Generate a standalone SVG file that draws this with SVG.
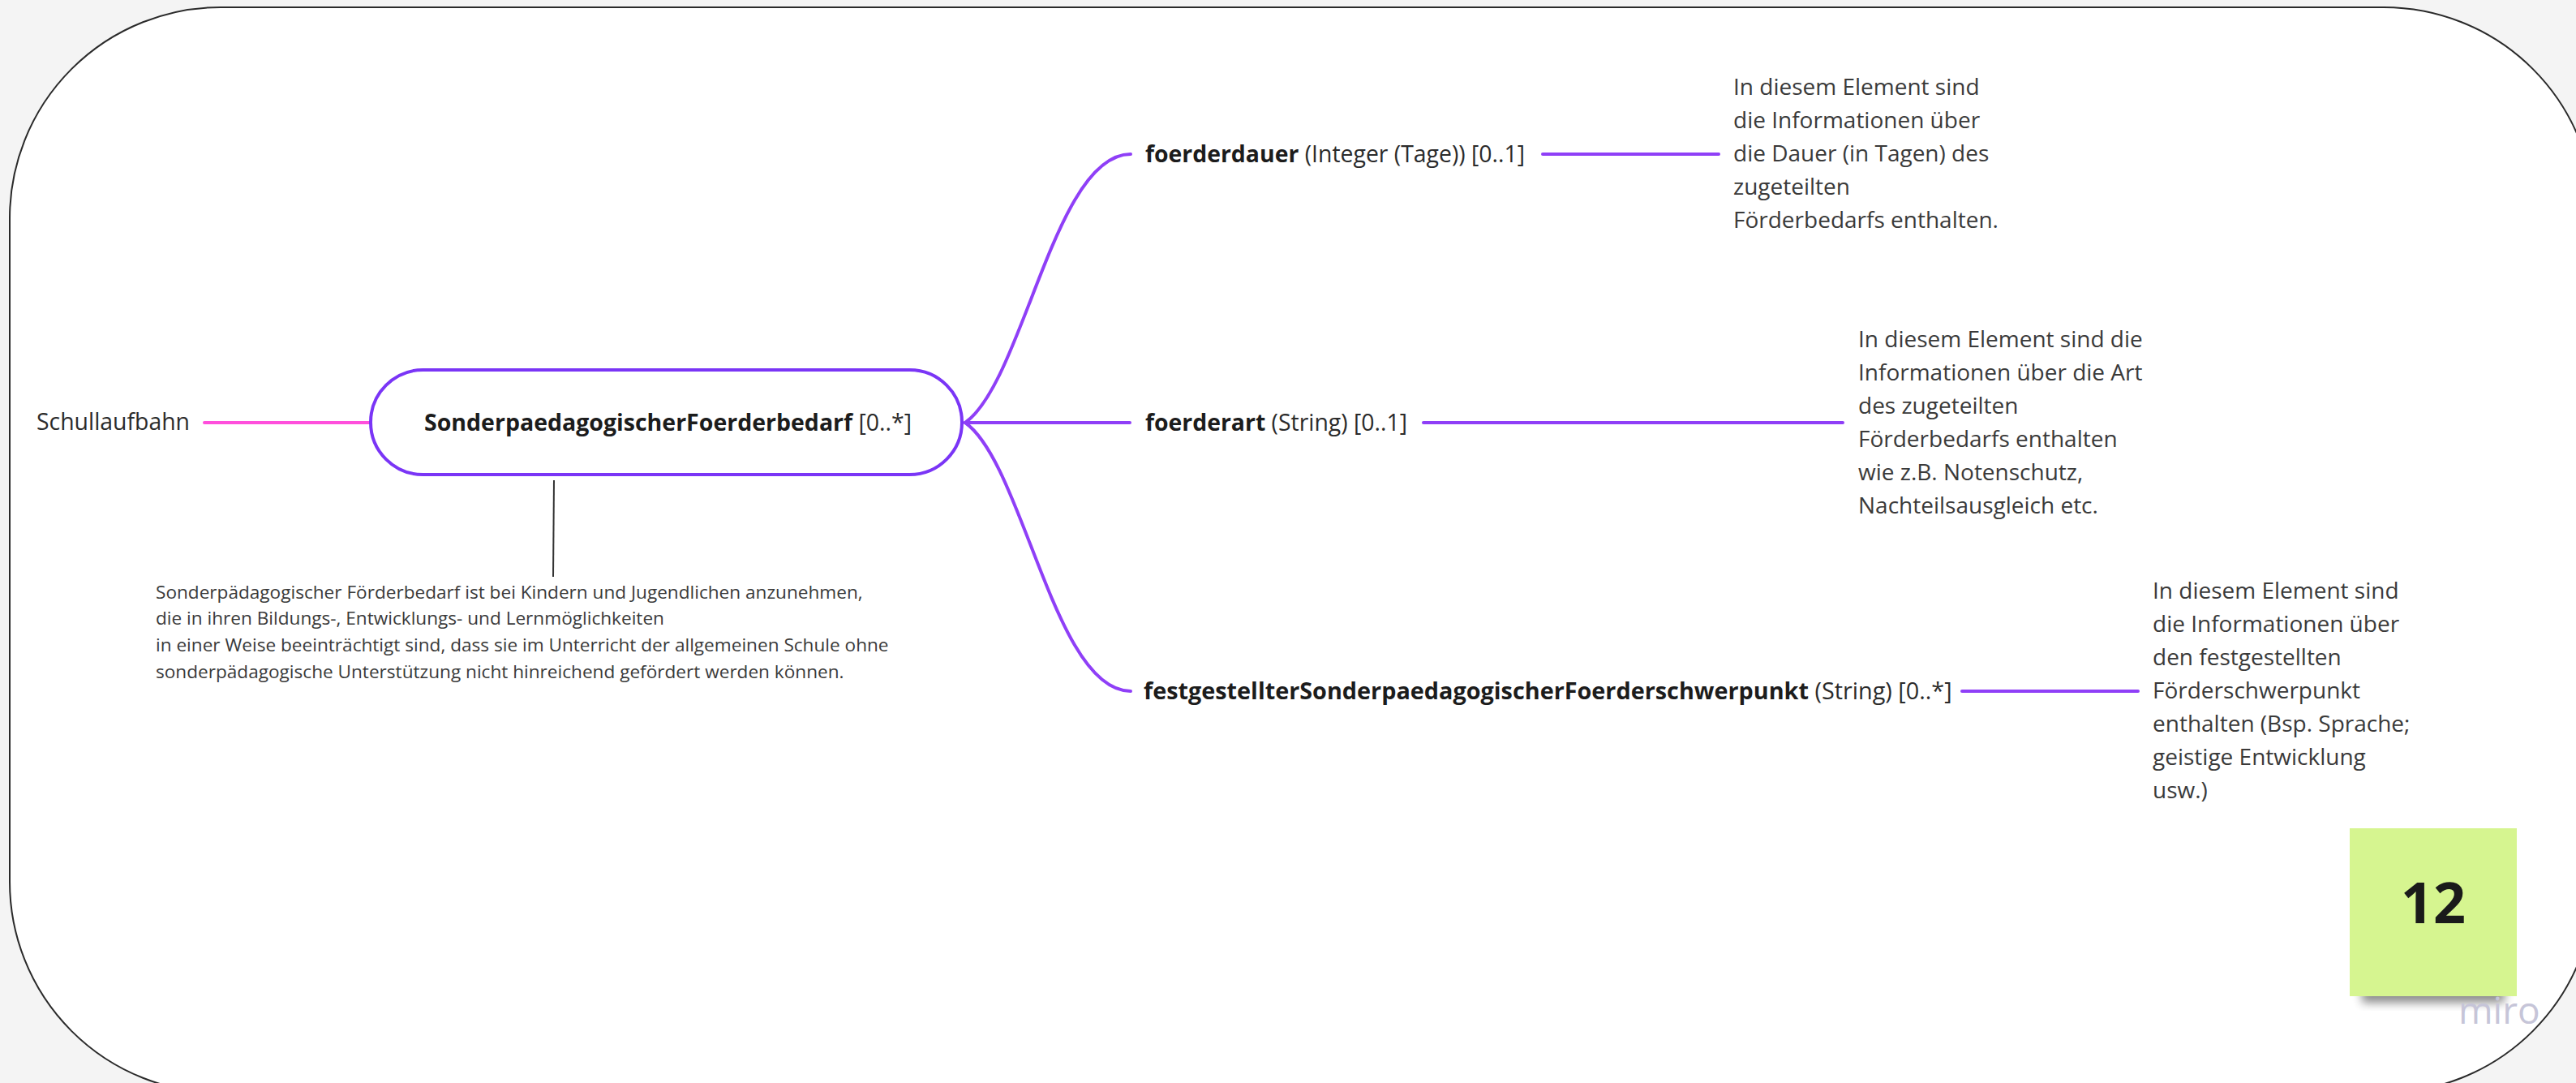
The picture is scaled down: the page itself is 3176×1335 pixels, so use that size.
<svg xmlns="http://www.w3.org/2000/svg" width="3176" height="1335" viewBox="0 0 3176 1335">
  <style>
    .lbl { font-family: "Open Sans", "Liberation Sans", sans-serif; font-size: 28.4px; fill: #2b2b2b; }
    .lbl .b { font-weight: 700; fill: #1c1c1c; }
    .desc { font-family: "Open Sans", "Liberation Sans", sans-serif; font-size: 28px; fill: #3a3a3a; }
    .note { font-family: "Open Sans", "Liberation Sans", sans-serif; font-size: 22.6px; fill: #3a3a3a; }
    .branch { fill: none; stroke: #8f3ff7; stroke-width: 4; stroke-linecap: round; }
  </style>
  <defs>
    <filter id="stickyShadow" x="-20%" y="-20%" width="140%" height="160%">
      <feGaussianBlur stdDeviation="6"/>
    </filter>
  </defs>

  <!-- canvas and frame -->
  <rect x="0" y="0" width="3176" height="1335" fill="#f4f4f4"/>
  <rect id="frame" x="12" y="9" width="3187" height="1338" rx="260" ry="260" fill="#ffffff" stroke="#2a2a2a" stroke-width="2"/>

  <!-- connectors -->
  <g id="connectors">
    <line x1="252" y1="521" x2="456" y2="521" stroke="#ff4fdc" stroke-width="4" stroke-linecap="round"/>
    <path class="branch" d="M1190 521 C1262 470 1300 190 1394 190"/>
    <line class="branch" x1="1190" y1="521" x2="1393" y2="521"/>
    <path class="branch" d="M1190 521 C1262 572 1300 852 1394 852"/>
    <line class="branch" x1="1902" y1="190" x2="2119" y2="190"/>
    <line class="branch" x1="1755" y1="521" x2="2272" y2="521"/>
    <line class="branch" x1="2419" y1="852" x2="2636" y2="852"/>
    <line x1="683" y1="592" x2="682" y2="711" stroke="#333333" stroke-width="2"/>
  </g>

  <!-- parent -->
  <g id="node-schullaufbahn">
    <text class="lbl" x="45" y="530">Schullaufbahn</text>
  </g>

  <!-- central element -->
  <g id="node-sonderpaedagogischerFoerderbedarf">
    <rect x="457" y="456" width="729" height="129" rx="64.5" ry="64.5" fill="#ffffff" stroke="#7a35f6" stroke-width="4"/>
    <text class="lbl" x="523" y="531" style="font-size:28.5px"><tspan class="b">SonderpaedagogischerFoerderbedarf</tspan> [0..*]</text>
  </g>

  <g id="node-definition">
    <text class="note" x="192" y="738">Sonderpädagogischer Förderbedarf ist bei Kindern und Jugendlichen anzunehmen,</text>
    <text class="note" x="192" y="770">die in ihren Bildungs-, Entwicklungs- und Lernmöglichkeiten</text>
    <text class="note" x="192" y="803">in einer Weise beeinträchtigt sind, dass sie im Unterricht der allgemeinen Schule ohne</text>
    <text class="note" x="192" y="836">sonderpädagogische Unterstützung nicht hinreichend gefördert werden können.</text>
  </g>

  <!-- child elements -->
  <g id="node-foerderdauer">
    <text class="lbl" x="1412" y="200"><tspan class="b">foerderdauer</tspan> (Integer (Tage)) [0..1]</text>
  </g>
  <g id="node-foerderdauer-desc">
    <text class="desc" x="2137" y="117">In diesem Element sind</text>
    <text class="desc" x="2137" y="158">die Informationen über</text>
    <text class="desc" x="2137" y="199">die Dauer (in Tagen) des</text>
    <text class="desc" x="2137" y="240">zugeteilten</text>
    <text class="desc" x="2137" y="281">Förderbedarfs enthalten.</text>
  </g>

  <g id="node-foerderart">
    <text class="lbl" x="1412" y="531"><tspan class="b">foerderart</tspan> (String) [0..1]</text>
  </g>
  <g id="node-foerderart-desc">
    <text class="desc" x="2291" y="428">In diesem Element sind die</text>
    <text class="desc" x="2291" y="469">Informationen über die Art</text>
    <text class="desc" x="2291" y="510">des zugeteilten</text>
    <text class="desc" x="2291" y="551">Förderbedarfs enthalten</text>
    <text class="desc" x="2291" y="592">wie z.B. Notenschutz,</text>
    <text class="desc" x="2291" y="633">Nachteilsausgleich etc.</text>
  </g>

  <g id="node-festgestellterSonderpaedagogischerFoerderschwerpunkt">
    <text class="lbl" x="1410" y="862" style="font-size:28.8px"><tspan class="b">festgestellterSonderpaedagogischerFoerderschwerpunkt</tspan> (String) [0..*]</text>
  </g>
  <g id="node-festgestellter-desc">
    <text class="desc" x="2654" y="738">In diesem Element sind</text>
    <text class="desc" x="2654" y="779">die Informationen über</text>
    <text class="desc" x="2654" y="820">den festgestellten</text>
    <text class="desc" x="2654" y="861">Förderschwerpunkt</text>
    <text class="desc" x="2654" y="902">enthalten (Bsp. Sprache;</text>
    <text class="desc" x="2654" y="943">geistige Entwicklung</text>
    <text class="desc" x="2654" y="984">usw.)</text>
  </g>

  <!-- page number sticky -->
  <g id="sticky-12">
    <rect x="2912" y="1212" width="176" height="24" fill="#000000" opacity="0.45" filter="url(#stickyShadow)"/>
    <rect x="2897" y="1021" width="206" height="207" fill="#d6f590"/>
    <text x="3000" y="1138" text-anchor="middle" font-family="'Open Sans', 'Liberation Sans', sans-serif" font-weight="700" font-size="70" fill="#1a1a1a">12</text>
  </g>

  <text x="3031" y="1262" font-family="'Open Sans', 'Liberation Sans', sans-serif" font-weight="400" font-size="46" fill="#c6c5d8">miro</text>
</svg>
